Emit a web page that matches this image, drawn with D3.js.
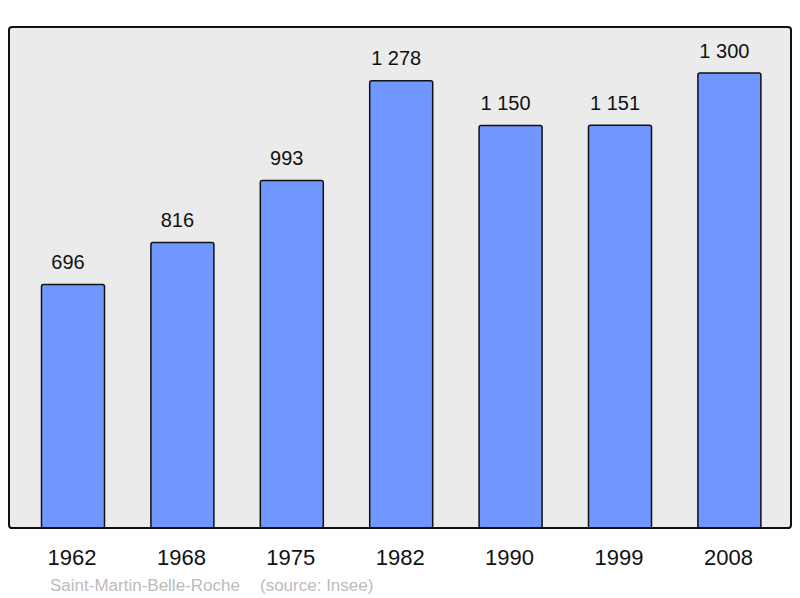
<!DOCTYPE html>
<html>
<head>
<meta charset="utf-8">
<script src="https://cdn.jsdelivr.net/npm/d3@7"></script>
<style>
  body { margin: 0; background: #fff; }
  text { font-family: "Liberation Sans", Arial, sans-serif; }
</style>
</head>
<body>
<div id="chart"></div>
<script>
// data
const years = ["1962", "1968", "1975", "1982", "1990", "1999", "2008"];
const population = [696, 816, 993, 1278, 1150, 1151, 1300];
const valueLabels = ["696", "816", "993", "1 278", "1 150", "1 151", "1 300"];
const commune = "Saint-Martin-Belle-Roche";
const source = "(source: Insee)";

const width = 800;
const height = 598;

const svg = d3
  .select("#chart")
  .append("svg")
  .attr("width", width)
  .attr("height", height);

// panel background
svg
  .append("rect")
  .attr("x", 9)
  .attr("y", 27)
  .attr("width", 782)
  .attr("height", 501)
  .attr("rx", 3)
  .attr("fill", "#ebebeb")
  .attr("stroke", "#111")
  .attr("stroke-width", 2);

const x = d3.scaleBand().domain(years).range([18.3, 784.1]).padding(0);
const barWidth = 63;

const y = d3.scaleLinear().domain([0, 1300]).range([528, 73]);

const data = years.map((yr, i) => ({
  year: yr,
  value: population[i],
  label: valueLabels[i],
}));

svg
  .selectAll(".bar")
  .data(data)
  .enter()
  .append("rect")
  .attr("class", "bar")
  .attr("x", (d) => x(d.year) + x.bandwidth() / 2 - barWidth / 2)
  .attr("y", (d) => y(d.value))
  .attr("width", barWidth)
  .attr("height", (d) => y(0) - y(d.value))
  .attr("rx", 2)
  .attr("fill", "#7096ff")
  .attr("stroke", "#111")
  .attr("stroke-width", 1.5);

// redraw bottom border over bar bottoms
svg
  .append("line")
  .attr("x1", 10)
  .attr("x2", 790)
  .attr("y1", 528)
  .attr("y2", 528)
  .attr("stroke", "#111")
  .attr("stroke-width", 2);

svg
  .selectAll(".val")
  .data(data)
  .enter()
  .append("text")
  .attr("class", "val")
  .attr("x", (d) => x(d.year) + x.bandwidth() / 2 - 5)
  .attr("y", (d) => y(d.value) - 15.5)
  .attr("text-anchor", "middle")
  .attr("font-size", 20)
  .attr("fill", "#111")
  .text((d) => d.label);

svg
  .selectAll(".year")
  .data(years)
  .enter()
  .append("text")
  .attr("class", "year")
  .attr("x", (d) => x(d) + x.bandwidth() / 2 - 1)
  .attr("y", 565)
  .attr("text-anchor", "middle")
  .attr("font-size", 22)
  .attr("fill", "#111")
  .text((d) => d);

svg
  .append("text")
  .attr("x", 50)
  .attr("y", 590.5)
  .attr("font-size", 17)
  .attr("fill", "#bbb")
  .text(commune);

svg
  .append("text")
  .attr("x", 260)
  .attr("y", 590.5)
  .attr("font-size", 17)
  .attr("fill", "#bbb")
  .text(source);
</script>
</body>
</html>
